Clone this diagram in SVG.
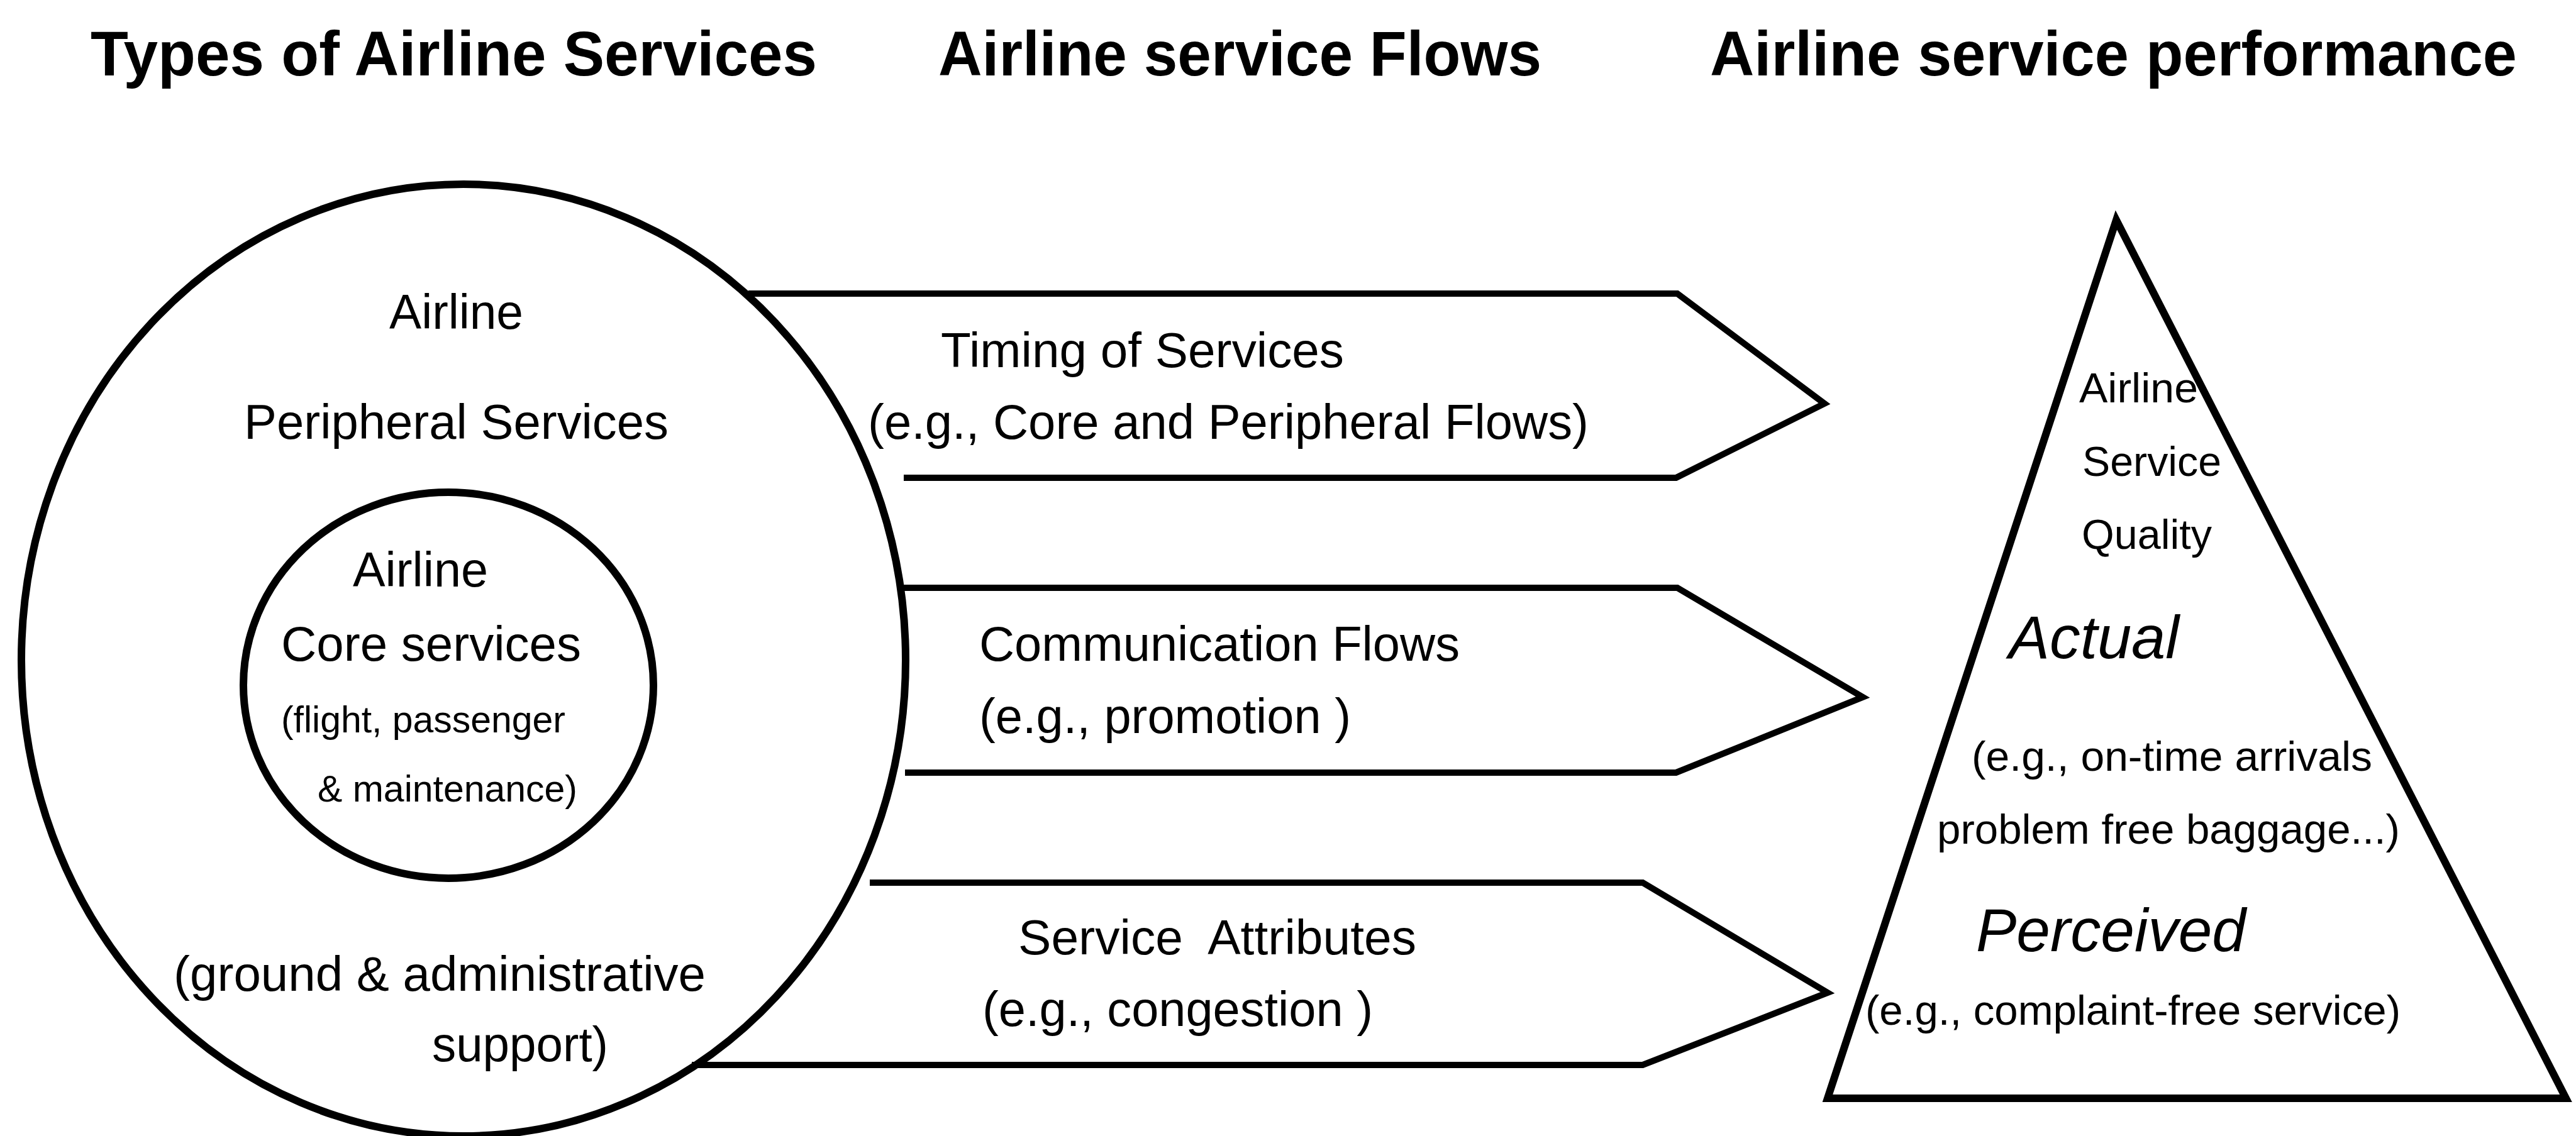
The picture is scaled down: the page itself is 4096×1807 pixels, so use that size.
<svg xmlns="http://www.w3.org/2000/svg" width="4096" height="1807" viewBox="0 0 4096 1807">
  <style>
    .ln{fill:none;stroke:#000;stroke-width:10;stroke-linejoin:miter;stroke-miterlimit:12}
    .shape{fill:none;stroke:#000;stroke-width:12;stroke-linejoin:miter;stroke-miterlimit:12}
    text{font-family:"Liberation Sans",Arial,Helvetica,sans-serif;fill:#000}
    .title{font-size:100px;font-weight:bold}
    .lg{font-size:78px}
    .md{font-size:67px}
    .sm{font-size:59px}
    .it{font-size:96px;font-style:italic}
  </style>
  <rect width="4096" height="1807" fill="#fff"/>

  <!-- column headings -->
  <g id="headings">
    <text class="title" x="144" y="120" textLength="1155" lengthAdjust="spacingAndGlyphs">Types of Airline Services</text>
    <text class="title" x="1492" y="120" textLength="959" lengthAdjust="spacingAndGlyphs">Airline service Flows</text>
    <text class="title" x="2719" y="120" textLength="1283" lengthAdjust="spacingAndGlyphs">Airline service performance</text>
  </g>

  <!-- outer ring: peripheral services -->
  <g id="peripheral-services">
    <ellipse class="shape" cx="737" cy="1050" rx="703" ry="757"/>
    <text class="lg" x="619" y="523" textLength="213" lengthAdjust="spacingAndGlyphs">Airline</text>
    <text class="lg" x="388" y="698" textLength="675" lengthAdjust="spacingAndGlyphs">Peripheral Services</text>
    <text class="lg" x="276" y="1576" textLength="846" lengthAdjust="spacingAndGlyphs">(ground &amp; administrative</text>
    <text class="lg" x="687" y="1688" textLength="280" lengthAdjust="spacingAndGlyphs">support)</text>
  </g>

  <!-- inner ring: core services -->
  <g id="core-services">
    <ellipse class="shape" cx="713" cy="1090" rx="326" ry="307"/>
    <text class="lg" x="561" y="933" textLength="215" lengthAdjust="spacingAndGlyphs">Airline</text>
    <text class="lg" x="447" y="1051" textLength="477" lengthAdjust="spacingAndGlyphs">Core services</text>
    <text class="sm" x="447" y="1165" textLength="452" lengthAdjust="spacingAndGlyphs">(flight, passenger</text>
    <text class="sm" x="505" y="1275" textLength="413" lengthAdjust="spacingAndGlyphs">&amp; maintenance)</text>
  </g>

  <!-- flow arrows between the rings and the pyramid -->
  <g id="connectors">
    <g id="flow-timing">
      <path class="ln" d="M1190,467 H2667 L2901,642 L2665,760 H1437"/>
      <text class="lg" x="1496" y="584" textLength="641" lengthAdjust="spacingAndGlyphs">Timing of Services</text>
      <text class="lg" x="1380" y="698" textLength="1146" lengthAdjust="spacingAndGlyphs">(e.g., Core and Peripheral Flows)</text>
    </g>
    <g id="flow-communication">
      <path class="ln" d="M1436,935 H2667 L2962,1109 L2665,1229 H1439"/>
      <text class="lg" x="1557" y="1051" textLength="764" lengthAdjust="spacingAndGlyphs">Communication Flows</text>
      <text class="lg" x="1557" y="1166" textLength="591" lengthAdjust="spacingAndGlyphs">(e.g., promotion )</text>
    </g>
    <g id="flow-attributes">
      <path class="ln" d="M1383,1404 H2612 L2906,1579 L2612,1694 H1100"/>
      <text class="lg" x="1619" y="1518" textLength="633" lengthAdjust="spacingAndGlyphs" xml:space="preserve">Service  Attributes</text>
      <text class="lg" x="1562" y="1632" textLength="621" lengthAdjust="spacingAndGlyphs">(e.g., congestion )</text>
    </g>
  </g>

  <!-- pyramid: service quality -->
  <g id="service-quality">
    <path class="shape" d="M3365,350 L4080,1747 L2906,1747 Z"/>
    <text class="md" x="3306" y="640" textLength="189" lengthAdjust="spacingAndGlyphs">Airline</text>
    <text class="md" x="3311" y="757" textLength="221" lengthAdjust="spacingAndGlyphs">Service</text>
    <text class="md" x="3310" y="873" textLength="207" lengthAdjust="spacingAndGlyphs">Quality</text>
    <text class="it" x="3194" y="1047" textLength="271" lengthAdjust="spacingAndGlyphs">Actual</text>
    <text class="md" x="3135" y="1226" textLength="637" lengthAdjust="spacingAndGlyphs">(e.g., on-time arrivals</text>
    <text class="md" x="3080" y="1342" textLength="736" lengthAdjust="spacingAndGlyphs">problem free baggage...)</text>
    <text class="it" x="3142" y="1513" textLength="429" lengthAdjust="spacingAndGlyphs">Perceived</text>
    <text class="md" x="2966" y="1630" textLength="851" lengthAdjust="spacingAndGlyphs">(e.g., complaint-free service)</text>
  </g>
</svg>
